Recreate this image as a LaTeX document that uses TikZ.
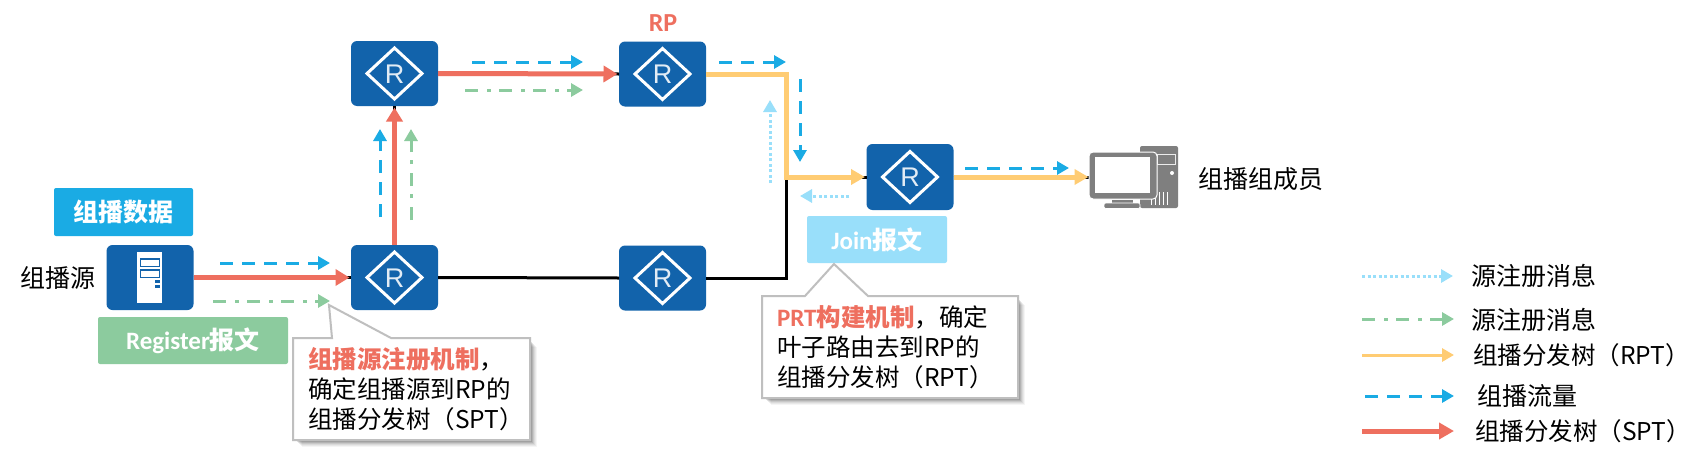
\documentclass[tikz,border=0pt]{standalone}
\usepackage{fontspec}
\setmainfont{Noto Sans CJK SC}
\newfontfamily\latinr{Liberation Sans}
\newfontfamily\latinb{Carlito}
\usetikzlibrary{arrows.meta}
\definecolor{rtblue}{HTML}{1263AB}
\definecolor{flowcyan}{HTML}{1AABE4}
\definecolor{sptred}{HTML}{EE6F5F}
\definecolor{regreen}{HTML}{8CCB9E}
\definecolor{rptyel}{HTML}{FFCC73}
\definecolor{joinblue}{HTML}{99DFFA}
\definecolor{calloutedge}{HTML}{BFBFBF}
\definecolor{pcgray}{HTML}{7F7F7F}
\newcommand{\fsz}[1]{\fontsize{#1}{30}\selectfont}
\newcommand{\lb}[1]{{\latinb\bfseries\fontsize{25}{30}\selectfont #1}}
\tikzset{
  x=1pt,y=-1pt,
  devbox/.style={draw=none,fill=rtblue,rounded corners=6pt,minimum width=87pt,minimum height=65pt,inner sep=0pt,outer sep=0pt},
  tagbox/.style={fill=#1,rounded corners=2pt,text=white,inner sep=0pt,outer sep=0pt,font=\fsz{25}\bfseries},
  plain/.style={inner sep=0pt,outer sep=0pt,font=\fsz{25},text=black,anchor=west},
  paren/.style={inner sep=0pt,outer sep=0pt,font=\fsz{24.5},text=black,anchor=west},
  calltext/.style={inner sep=0pt,outer sep=0pt,font=\fsz{24.5},anchor=west,text=black},
  linkblack/.style={draw=black,line width=3pt},
  sptline/.style={draw=sptred,line width=5pt,-{Triangle[length=14pt,width=16pt]}},
  rptline/.style={draw=rptyel,line width=5pt,-{Triangle[length=14pt,width=15pt]}},
  flowline/.style={draw=flowcyan,line width=3pt,dash pattern=on 13pt off 9pt,-{Triangle[length=12pt,width=13pt]}},
  regline/.style={draw=regreen,line width=3pt,dash pattern=on 13pt off 9pt on 4pt off 8pt,-{Triangle[length=12pt,width=13pt]}},
  joinline/.style={draw=joinblue,line width=3pt,dash pattern=on 3pt off 2.5pt,-{Triangle[length=12pt,width=13pt]}},
  calloutbody/.style={draw=calloutedge,line width=2pt,fill=white,line join=miter},
  pics/routericon/.style={code={
    \draw[white,line width=3pt,line join=miter] (-27.5,0)--(0,-25.5)--(27.5,0)--(0,25.5)--cycle;
    \node[inner sep=0pt,text=white!88!rtblue,font=\latinr\fontsize{27}{27}\selectfont] at (0,0.5) {R};
  }}
}
\begin{document}
\begin{tikzpicture}
\useasboundingbox[fill=white] (0,0) rectangle (1703,466);

% devices
\node[devbox] (src) at (150,277.5) {};
\node[devbox] (r1) at (394.5,73.5) {};
\node[devbox] (rp) at (662.5,74) {};
\node[devbox] (r2) at (394.5,277.5) {};
\node[devbox] (r3) at (662.5,278) {};
\node[devbox,minimum height=66pt] (r4) at (910,177) {};
\node[inner sep=0pt,outer sep=0pt,minimum width=88pt,minimum height=62pt] (pc) at (1134,177) {};

% bends and free ends
\coordinate (b1) at (786.5,74);
\coordinate (b2) at (786.5,177);
\coordinate (b3) at (786.5,278);

% black links lying underneath
\draw[linkblack] (src.east) -- (r2.west);
\draw[linkblack] (r2.east) -- (r3.west);
\draw[linkblack,line join=miter] (r3.east) -- (b3) -- (b2);
\draw[linkblack] (r2.north) -- (r1.south);
\draw[linkblack] (r1.east) -- (rp.west);
\draw[linkblack] (b2) -- (r4.west);
\draw[linkblack] (r4.east) -- (pc.west);

% trees
\draw[sptline,shorten >=1.5pt] (src.east) -- (r2.west);
\draw[sptline,shorten >=1.5pt] (r2.north) -- (r1.south);
\draw[sptline,shorten >=1.5pt] (r1.east) -- (rp.west);
\draw[rptline,line join=miter,shorten >=1.5pt] (rp.east) -- (b1) -- (b2) -- (r4.west);
\draw[rptline,shorten >=1.5pt] (r4.east) -- (pc.west);

% flow arrows
\coordinate (fa1) at (220,263); \coordinate (fa2) at (330,263);
\coordinate (fb1) at (380,217); \coordinate (fb2) at (380,129);
\coordinate (fc1) at (472,62);  \coordinate (fc2) at (583,62);
\coordinate (fd1) at (719,62);  \coordinate (fd2) at (786,62);
\coordinate (fe1) at (800,79);  \coordinate (fe2) at (800,162);
\coordinate (ff1) at (965,168); \coordinate (ff2) at (1069,168);
\draw[flowline] (fa1) -- (fa2);
\draw[flowline] (fb1) -- (fb2);
\draw[flowline] (fc1) -- (fc2);
\draw[flowline] (fd1) -- (fd2);
\draw[flowline] (fe1) -- (fe2);
\draw[flowline] (ff1) -- (ff2);

% register arrows
\coordinate (ga1) at (213,301); \coordinate (ga2) at (330,301);
\coordinate (gb1) at (411,220); \coordinate (gb2) at (411,129);
\coordinate (gc1) at (465,90);  \coordinate (gc2) at (583,90);
\draw[regline] (ga1) -- (ga2);
\draw[regline] (gb1) -- (gb2);
\draw[regline] (gc1) -- (gc2);

% join arrows
\coordinate (ja1) at (849,196); \coordinate (ja2) at (800,196);
\coordinate (jb1) at (770,183); \coordinate (jb2) at (770,100);
\draw[joinline] (ja1) -- (ja2);
\draw[joinline] (jb1) -- (jb2);

% router icons
\foreach \r in {r1,rp,r2,r3,r4}{ \pic at (\r.center) {routericon}; }

% server icon
\fill[white] (137,252) rectangle (162,303);
\foreach \yy in {259,270}{
  \draw[rtblue,line width=1.6pt,fill=white] (140.5,\yy) rectangle (159.5,\yy+7.5);
}
\fill[rtblue] (155,280) rectangle (160,283);
\fill[rtblue] (155,284.5) rectangle (160,287.5);

% computer icon
\fill[pcgray,rounded corners=2pt] (1140,146) rectangle (1178,208);
\draw[white!85!pcgray,line width=1pt] (1157,154) rectangle (1175,164);
\fill[white] (1172,173) circle (2pt);
\foreach \xx in {1151,1155,1159,1163,1167}{
  \draw[white,line width=1pt] (\xx,192) -- (\xx,205);
}
\fill[pcgray,draw=white,line width=1pt,rounded corners=4pt] (1089,152) rectangle (1157,199);
\fill[white] (1095,157) rectangle (1150,193);
\fill[pcgray] (1112,199.5) rectangle (1133,204);
\fill[pcgray,draw=white,line width=0.6pt,rounded corners=1.5pt] (1104,203) rectangle (1140,208.5);

% tags
\node[tagbox=flowcyan,minimum width=139pt,minimum height=48pt] (tagdata) at (123.5,212) {组播数据};
\node[tagbox=regreen,minimum width=190pt,minimum height=47pt] (tagreg) at (193,340.5) {\lb{Register}报文};
\node[tagbox=joinblue,minimum width=140pt,minimum height=47pt] (tagjoin) at (877,239.5) {\lb{Join}报文};

% callout 1
\foreach \d/\o in {9/0.04,8/0.05,7/0.06,6/0.08,5/0.10,4/0.12}{
  \fill[black,opacity=\o] (293+\d,338+\d) rectangle (530+\d-2,440+\d-2);
}
\draw[calloutbody] (293,338) -- (332,338) -- (329,305) -- (391,338) -- (530,338) -- (530,440) -- (293,440) -- cycle;
\node[calltext] (note1a) at (308,359) {\textcolor{sptred}{\bfseries 组播源注册机制}，};
\node[calltext] (note1b) at (308,389) {确定组播源到RP的};
\node[calltext] (note1c) at (308,419) {组播分发树（SPT）};

% callout 2
\foreach \d/\o in {9/0.04,8/0.05,7/0.06,6/0.08,5/0.10,4/0.12}{
  \fill[black,opacity=\o] (762+\d,296+\d) rectangle (1018+\d-2,398+\d-2);
}
\draw[calloutbody] (762,296) -- (805,296) -- (834,264) -- (868,296) -- (1018,296) -- (1018,398) -- (762,398) -- cycle;
\node[calltext] (note2a) at (777,317) {\textcolor{sptred}{\lb{PRT}\bfseries 构建机制}，确定};
\node[calltext] (note2b) at (777,347) {叶子路由去到RP的};
\node[calltext] (note2c) at (777,377) {组播分发树（RPT）};

% labels
\node[plain] (lsrc) at (20,278) {组播源};
\node[plain] (lpc) at (1198,179) {组播组成员};
\node[inner sep=0pt,text=sptred,font=\latinb\bfseries\fontsize{26}{26}\selectfont] (lrp) at (663,23.5) {RP};

% legend
\coordinate (k1a) at (1362,276); \coordinate (k1b) at (1453,276);
\coordinate (k2a) at (1362,319); \coordinate (k2b) at (1454,319);
\coordinate (k3a) at (1362,355); \coordinate (k3b) at (1454,355);
\coordinate (k4a) at (1365,396); \coordinate (k4b) at (1454,396);
\coordinate (k5a) at (1362,431); \coordinate (k5b) at (1454,431);
\draw[joinline] (k1a) -- (k1b);
\draw[regline] (k2a) -- (k2b);
\draw[rptline,line width=3pt,-{Triangle[length=12pt,width=13pt]}] (k3a) -- (k3b);
\draw[flowline] (k4a) -- (k4b);
\draw[sptline,-{Triangle[length=15pt,width=16pt]}] (k5a) -- (k5b);
\node[plain] (t1) at (1471,276) {源注册消息};
\node[plain] (t2) at (1471,320) {源注册消息};
\node[paren] (t3) at (1473,355) {组播分发树（RPT）};
\node[plain] (t4) at (1477,396) {组播流量};
\node[paren] (t5) at (1475,431) {组播分发树（SPT）};
\end{tikzpicture}
\end{document}
